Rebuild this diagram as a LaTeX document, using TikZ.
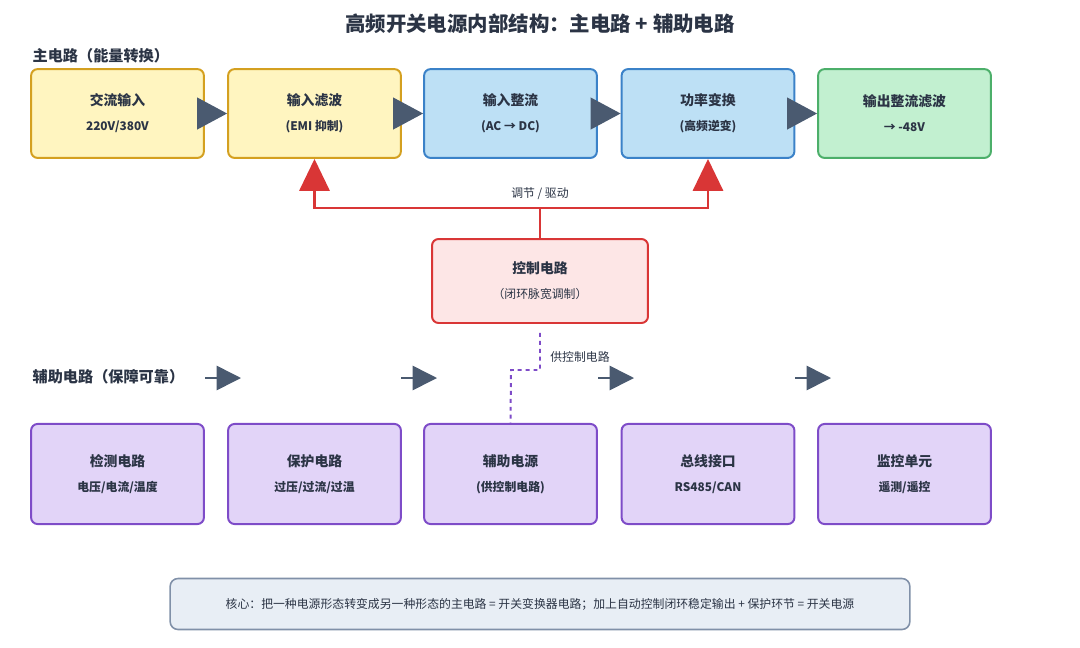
\documentclass[tikz,border=0pt]{standalone}
\usepackage{fontspec}
\setmainfont{Noto Sans CJK SC}
\usetikzlibrary{arrows.meta,positioning}
\definecolor{txtc}{HTML}{2B3445}
\definecolor{arrc}{HTML}{4A5A70}
\definecolor{ylwf}{HTML}{FFF5C0}\definecolor{ylwd}{HTML}{D4A020}
\definecolor{bluf}{HTML}{BDE0F5}\definecolor{blud}{HTML}{3B82C8}
\definecolor{grnf}{HTML}{C2F0D0}\definecolor{grnd}{HTML}{4CAF6A}
\definecolor{redf}{HTML}{FDE6E6}\definecolor{redd}{HTML}{D93636}
\definecolor{purf}{HTML}{E2D4F8}\definecolor{purd}{HTML}{7E4CC8}
\definecolor{notf}{HTML}{E8EEF5}\definecolor{notd}{HTML}{8090A8}
\newcommand{\bigt}{\fontsize{10.5}{13}\selectfont}
\newcommand{\subt}{\fontsize{9}{11}\selectfont}
\begin{document}
\begin{tikzpicture}[x=0.02667cm,y=-0.02667cm,
    box/.style={draw, line width=1.5pt, rectangle, rounded corners=5pt, minimum width=4.61cm, minimum height=2.37cm, align=center, text=txtc, font=\bigt},
    abox/.style={box, minimum height=2.67cm, fill=purf, draw=purd},
    flow/.style={-{Triangle[length=0.8cm,width=0.85cm]}, arrc, line width=1pt},
    ctrl/.style={-{Triangle[length=0.85cm,width=0.8cm]}, redd, line width=2.2pt},
    aux/.style={-{Triangle[length=0.65cm,width=0.65cm]}, arrc, line width=1.2pt}]
  \useasboundingbox (0,0) rectangle (1080,648);

  %%%%% TITLES
  \node[font=\fontsize{15.5}{18}\selectfont\bfseries, text=txtc] (ttl) at (540,24) {高频开关电源内部结构：主电路 + 辅助电路};
  \node[font=\fontsize{11.5}{14}\selectfont\bfseries, text=txtc, anchor=west] (mainlbl) at (28,56) {主电路（能量转换）};
  \node[font=\fontsize{11.5}{14}\selectfont\bfseries, text=txtc, anchor=west] (auxlbl) at (28,377) {辅助电路（保障可靠）};

  %%%%% MAIN CIRCUIT
  \node[box, fill=ylwf, draw=ylwd] (acin) at (117.5,113.5) {\textbf{交流输入}\\[6pt]\subt\textbf{220V/380V}};
  \node[box, fill=ylwf, draw=ylwd] (filt) at (314.5,113.5) {\textbf{输入滤波}\\[6pt]\subt\textbf{(EMI 抑制)}};
  \node[box, fill=bluf, draw=blud] (rect) at (510.5,113.5) {\textbf{输入整流}\\[6pt]\subt\textbf{(AC → DC)}};
  \node[box, fill=bluf, draw=blud] (conv) at (708,113.5) {\textbf{功率变换}\\[6pt]\subt\textbf{(高频逆变)}};
  \node[box, fill=grnf, draw=grnd] (outp) at (904.5,113.5) {\textbf{输出整流滤波}\\[6pt]\subt\textbf{→ -48V}};

  %%%%% CONTROL
  \node[box, fill=redf, draw=redd, minimum width=5.76cm, minimum height=2.24cm] (ctl) at (540,281) {\textbf{控制电路}\\[6pt]\subt（闭环脉宽调制）};
  \coordinate (cj) at (540,208);
  \node[font=\subt, text=txtc] (ctllbl) at (540,194) {调节 / 驱动};

  %%%%% AUXILIARY
  \node[abox] (det) at (117.5,474) {\textbf{检测电路}\\[6pt]\subt\textbf{电压/电流/温度}};
  \node[abox] (prot) at (314.5,474) {\textbf{保护电路}\\[6pt]\subt\textbf{过压/过流/过温}};
  \node[abox] (apsu) at (510.5,474) {\textbf{辅助电源}\\[6pt]\subt\textbf{(供控制电路)}};
  \node[abox] (bus) at (708,474) {\textbf{总线接口}\\[6pt]\subt\textbf{RS485/CAN}};
  \node[abox] (mon) at (904.5,474) {\textbf{监控单元}\\[6pt]\subt\textbf{遥测/遥控}};
  \node[font=\subt, text=txtc] (supl) at (580,357) {供控制电路};

  %%%%% NOTE
  \node[draw=notd, fill=notf, line width=1.2pt, rounded corners=6pt, minimum width=19.73cm, minimum height=1.36cm, font=\subt, text=txtc] (note) at (540,604) {核心：把一种电源形态转变成另一种形态的主电路 = 开关变换器电路；加上自动控制闭环稳定输出 + 保护环节 = 开关电源};

  %%%%% EDGES
  \draw[flow] (acin) -- (filt);
  \draw[flow] (filt) -- (rect);
  \draw[flow] (rect) -- (conv);
  \draw[flow] (conv) -- (outp);

  \draw[redd, line width=2.2pt] (ctl.north) -- (cj);
  \draw[ctrl] (cj) -| (filt.south);
  \draw[ctrl] (cj) -| (conv.south);

  \draw[purd, line width=1.5pt, dashed] (ctl.south) ++(0,9) |- (511,370) -- (apsu.north);

  \foreach \xa in {205,401,598,795}
    \draw[aux] (\xa,378) -- ++(36,0);
\end{tikzpicture}
\end{document}
